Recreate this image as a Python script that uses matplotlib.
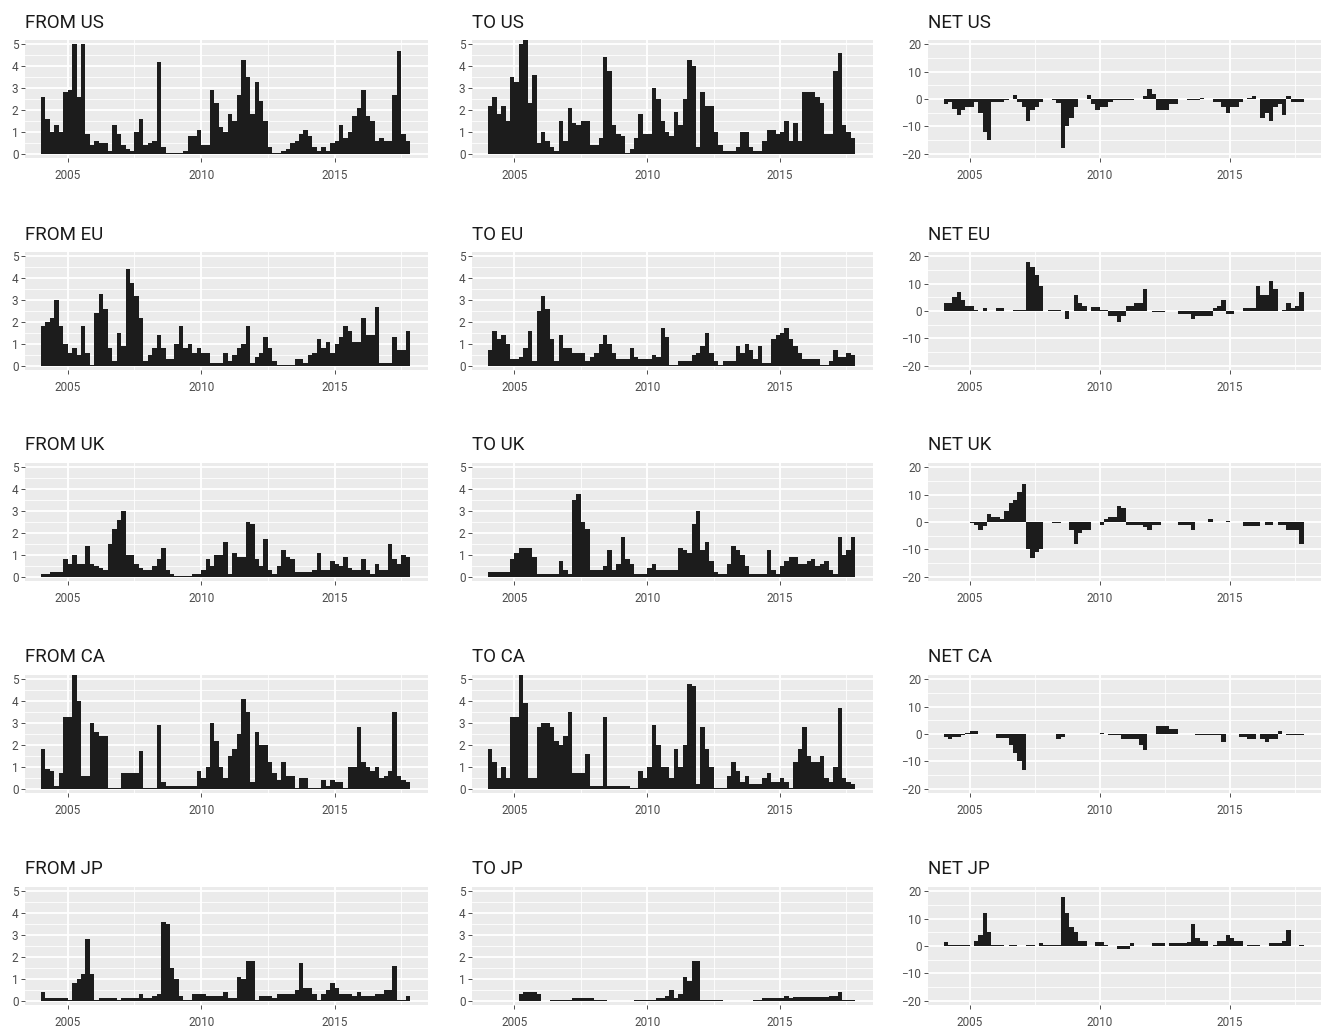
import numpy as np
import matplotlib
matplotlib.use("Agg")
import matplotlib.pyplot as plt
from matplotlib.ticker import MultipleLocator

plt.rcParams['font.family'] = ['Roboto', 'DejaVu Sans']

# two-month bins, Jan 2004 .. Oct 2017 (decimal years)
years = 2004 + np.arange(83) / 6

nan = np.nan

from_us = [2.6, 1.6, 1.0, 1.3, 1.0, 2.8,
           2.9, 5.0, 2.6, 5.0, 0.9, 0.4,
           0.6, 0.5, 0.5, 0.1, 1.3, 0.9,
           0.4, 0.2, 0.1, 1.0, 1.6, 0.4,
           0.5, 0.6, 4.2, 0.3, 0.05, 0.05,
           0.05, 0.05, 0.1, 0.8, 0.8, 1.1,
           0.4, 0.4, 2.9, 2.3, 1.2, 1.0,
           1.8, 1.5, 2.7, 4.3, 3.5, 1.8,
           3.3, 2.4, 1.5, 0.3, 0.05, 0.05,
           0.1, 0.2, 0.5, 0.6, 0.9, 1.1,
           0.8, 0.3, 0.1, 0.3, 0.1, 0.5,
           0.6, 1.3, 0.7, 1.0, 1.7, 2.1,
           2.9, 1.7, 1.5, 0.6, 0.7, 0.6,
           0.6, 2.7, 4.7, 0.9, 0.6]

to_us = [2.2, 2.6, 1.8, 2.2, 1.5, 3.5,
         3.3, 5.0, 5.2, 2.3, 3.6, 0.5,
         1.0, 0.6, 0.3, 0.1, 1.5, 0.6,
         2.1, 1.4, 1.3, 1.5, 1.5, 0.4,
         0.4, 0.7, 4.4, 3.8, 1.3, 0.9,
         0.8, 0.05, 0.2, 0.7, 1.8, 0.9,
         0.9, 3.0, 2.5, 1.5, 1.0, 0.8,
         1.9, 1.3, 2.5, 4.3, 4.0, 0.3,
         2.8, 2.2, 2.2, 1.0, 0.4, 0.1,
         0.1, 0.1, 0.3, 1.0, 1.0, 0.3,
         0.1, 0.1, 0.6, 1.1, 1.1, 0.9,
         1.0, 1.5, 0.6, 1.4, 0.6, 2.8,
         2.8, 2.8, 2.6, 2.3, 0.9, 0.9,
         3.8, 4.6, 1.3, 1.0, 0.7]

net_us = [-2, -1, -3.5, -6, -4, -3,
          -3, -1, -5, -12, -15, -1,
          -1, -1, -0.5, 0, 1.5, -1,
          -3, -8, -4, -3, -1, 0,
          0, -0.5, -1.5, -18, -10, -7,
          -3, 0, 0, 1.5, -2, -4,
          -3, -3, -1, -0.5, -0.5, -0.5,
          -0.5, -0.5, 0, 0, 1, 3.5,
          2, -4, -4, -4, -2, -2,
          0, 0, -0.5, -0.5, -0.5, 0.5,
          0, 0, -1, -1, -3, -5,
          -3, -3, -1, 0, 0.3, 1,
          0, -7, -5, -8, -3, -2,
          -6, 1, -1, -1, -1]

from_eu = [1.8, 2.0, 2.2, 3.0, 1.8, 1.0,
           0.6, 0.8, 0.5, 1.8, 0.6, 0.05,
           2.4, 3.3, 2.6, 0.8, 0.2, 1.5,
           0.9, 4.4, 3.8, 3.2, 2.2, 0.2,
           0.5, 0.8, 1.4, 0.8, 0.3, 0.3,
           1.0, 1.8, 0.8, 1.0, 0.6, 0.8,
           0.6, 0.6, 0.1, 0.1, 0.1, 0.6,
           0.2, 0.5, 0.8, 1.0, 1.8, 0.1,
           0.4, 0.6, 1.3, 0.8, 0.2, 0.05,
           0.05, 0.05, 0.05, 0.3, 0.3, 0.1,
           0.5, 0.6, 1.2, 0.8, 1.1, 0.6,
           1.0, 1.3, 1.8, 1.6, 1.1, 1.1,
           2.2, 1.4, 1.4, 2.7, 0.1, 0.1,
           0.1, 1.3, 0.7, 0.7, 1.6]

to_eu = [0.7, 1.6, 1.2, 1.4, 1.0, 0.3,
         0.3, 0.4, 0.8, 1.6, 0.2, 2.5,
         3.2, 2.6, 1.2, 0.2, 1.4, 0.8,
         0.8, 0.6, 0.6, 0.6, 0.2, 0.4,
         0.6, 1.0, 1.4, 1.0, 0.6, 0.3,
         0.3, 0.3, 0.8, 0.4, 0.3, 0.3,
         0.3, 0.5, 0.4, 1.7, 1.3, 0.05,
         0.05, 0.2, 0.2, 0.2, 0.5, 0.6,
         0.9, 1.5, 0.6, 0.2, 0.05, 0.2,
         0.2, 0.2, 0.9, 0.6, 1.0, 0.7,
         0.3, 0.9, 0.1, 0.1, 1.2, 1.4,
         1.5, 1.7, 1.2, 0.9, 0.6, 0.3,
         0.3, 0.3, 0.3, 0.05, 0.05, 0.2,
         0.7, 0.4, 0.4, 0.6, 0.5]

net_eu = [3, 3, 5, 7, 4, 2,
          2, 0.5, 0, 1, 0, 0,
          1, 1, 0, 0, 0.5, 0.5,
          0.5, 18, 16, 13, 9, 0,
          0.5, 0.5, 0.5, 0, -3, 0,
          6, 3, 2, 0, 1.5, 1.5,
          0.5, 0.5, -2, -2, -4, -2,
          2, 2, 3, 3, 8, 0,
          -0.5, -0.5, -0.5, 0, 0, 0,
          -1, -1, -1, -3, -2, -2,
          -2, -2, 1, 2, 4, -1,
          -1, 0, 0, 1, 1, 1,
          9, 6, 6, 11, 8, 0,
          0.5, 3, 1, 2, 7]

from_uk = [0.1, 0.1, 0.2, 0.2, 0.2, 0.8,
           0.6, 1.0, 0.6, 0.6, 1.4, 0.6,
           0.5, 0.4, 0.3, 1.5, 2.2, 2.6,
           3.0, 1.0, 1.0, 0.6, 0.4, 0.3,
           0.3, 0.5, 0.8, 1.3, 0.3, 0.1,
           0.05, 0.05, 0.05, 0.05, 0.1, 0.1,
           0.3, 0.8, 0.5, 1.0, 1.0, 1.6,
           0.1, 1.1, 0.9, 0.9, 2.5, 2.4,
           0.8, 0.5, 1.7, 0.3, 0.1, 0.5,
           1.2, 0.9, 0.8, 0.2, 0.2, 0.2,
           0.2, 0.3, 1.1, 0.3, 0.3, 0.7,
           0.6, 0.5, 0.9, 0.4, 0.3, 0.3,
           0.8, 0.3, 0.1, 0.6, 0.3, 0.3,
           1.5, 0.8, 0.6, 1.0, 0.9]

to_uk = [0.2, 0.2, 0.2, 0.2, 0.2, 0.8,
         1.1, 1.3, 1.3, 1.3, 0.9, 0.1,
         0.1, 0.1, 0.1, 0.1, 0.7, 0.3,
         0.1, 3.5, 3.8, 2.5, 2.2, 0.3,
         0.3, 0.3, 0.5, 1.2, 0.3, 0.6,
         1.8, 0.8, 0.6, 0.1, 0.1, 0.1,
         0.4, 0.6, 0.3, 0.3, 0.3, 0.3,
         0.3, 1.3, 1.2, 1.1, 2.4, 3.0,
         1.2, 1.6, 0.7, 0.2, 0.1, 0.1,
         0.6, 1.4, 1.2, 1.0, 0.5, 0.1,
         0.1, 0.1, 0.1, 1.2, 0.3, 0.1,
         0.5, 0.7, 0.9, 0.9, 0.6, 0.6,
         0.7, 0.8, 0.5, 0.6, 0.7, 0.3,
         0.1, 1.8, 1.0, 1.2, 1.8]

net_uk = [nan, nan, nan, nan, nan, nan,
          -0.5, -1, -3, -1.5, 3, 2,
          2, 1, 4, 7, 8, 11,
          14, -10, -13, -11, -10, 0,
          0, -0.5, -0.5, 0, 0, -3,
          -8, -4, -3, -3, 0, 0,
          -1, 1, 2, 2, 6, 5,
          -1, -1, -1, -1, -2, -3,
          -1, -1, 0, 0, 0, 0,
          -1, -1, -1, -3, 0, 0,
          0, 1, 0, 0, 0, 0.5,
          0, 0, 0, -1.5, -1.5, -1.5,
          -1.5, 0, -1, -1, 0, -1,
          -1, -3, -3, -3, -8]

from_ca = [1.8, 0.9, 0.8, 0.1, 0.7, 3.3,
           3.3, 5.2, 4.0, 0.6, 0.6, 3.0,
           2.6, 2.4, 2.4, 0.05, 0.05, 0.05,
           0.7, 0.7, 0.7, 0.7, 1.7, 0.05,
           0.05, 0.05, 2.9, 0.3, 0.1, 0.1,
           0.1, 0.1, 0.1, 0.1, 0.1, 0.8,
           0.5, 1.0, 3.0, 2.2, 1.0, 0.5,
           1.5, 1.8, 2.5, 4.1, 3.5, 0.3,
           2.6, 2.0, 2.0, 1.2, 0.7, 0.4,
           1.2, 0.6, 0.6, 0.05, 0.5, 0.5,
           0.05, 0.05, 0.05, 0.4, 0.1, 0.4,
           0.3, 0.3, 0.05, 1.0, 1.0, 2.8,
           1.2, 1.0, 0.8, 1.0, 0.5, 0.6,
           0.8, 3.5, 0.6, 0.4, 0.3]

to_ca = [1.8, 1.2, 0.5, 1.0, 0.5, 3.3,
         3.3, 5.2, 3.9, 0.5, 0.5, 2.8,
         3.0, 3.0, 2.8, 2.2, 2.0, 2.4,
         3.5, 0.7, 0.7, 0.7, 1.6, 0.1,
         0.1, 0.1, 3.3, 0.1, 0.1, 0.1,
         0.1, 0.1, 0.05, 0.05, 0.8, 0.5,
         1.0, 2.9, 2.0, 1.0, 1.0, 0.5,
         1.8, 1.0, 2.0, 4.8, 4.7, 0.2,
         2.8, 1.8, 1.0, 0.05, 0.05, 0.05,
         0.6, 1.2, 0.8, 0.3, 0.6, 0.2,
         0.2, 0.2, 0.5, 0.7, 0.3, 0.3,
         0.5, 0.3, 0.05, 1.2, 1.8, 2.8,
         1.5, 1.2, 1.2, 1.5, 0.5, 0.3,
         1.0, 3.7, 0.5, 0.3, 0.2]

net_ca = [-1, -2, -1, -1, -0.5, 0.5,
          1, 1, 0, 0, 0, 0,
          -1.5, -1.5, -1.5, -4, -7, -10,
          -13, 0, 0, 0, 0, 0,
          0, 0, -2, -1, 0, 0,
          0, 0, 0, 0, 0, 0,
          0.5, 0, -0.5, -0.5, -0.5, -2,
          -2, -2, -2, -4, -6, 0,
          0, 3, 3, 3, 2, 2,
          0, 0, 0, 0, -0.5, -0.5,
          -0.5, -0.5, -0.5, -0.5, -3, 0,
          0, 0, -1, -1, -2, -2,
          0, -2, -3, -2, -2, 1,
          0, -0.5, -0.5, -0.5, -0.3]

from_jp = [0.4, 0.1, 0.1, 0.1, 0.1, 0.1,
           0.05, 0.8, 1.0, 1.2, 2.8, 1.2,
           0.05, 0.1, 0.1, 0.1, 0.1, 0.05,
           0.1, 0.1, 0.1, 0.1, 0.3, 0.1,
           0.1, 0.2, 0.3, 3.6, 3.5, 1.5,
           1.0, 0.2, 0.05, 0.05, 0.3, 0.3,
           0.3, 0.2, 0.2, 0.2, 0.2, 0.4,
           0.1, 0.1, 1.1, 1.0, 1.8, 1.8,
           0.05, 0.2, 0.2, 0.2, 0.1, 0.3,
           0.3, 0.3, 0.3, 0.5, 1.7, 0.6,
           0.6, 0.3, 0.05, 0.3, 0.5, 0.8,
           0.6, 0.3, 0.3, 0.3, 0.2, 0.4,
           0.2, 0.2, 0.2, 0.3, 0.3, 0.5,
           0.5, 1.6, 0.05, 0.05, 0.2]

to_jp = [0, 0, 0, 0, 0, 0,
         0, 0.3, 0.4, 0.4, 0.4, 0.3,
         0, 0, 0.05, 0.05, 0.05, 0.05,
         0.05, 0.1, 0.1, 0.1, 0.1, 0.1,
         0.05, 0.05, 0.05, 0, 0, 0,
         0, 0, 0, 0.05, 0.05, 0.05,
         0.05, 0.05, 0.1, 0.1, 0.2, 0.5,
         0.1, 0.3, 1.1, 0.9, 1.8, 1.8,
         0.05, 0.05, 0.05, 0.05, 0.05, 0,
         0, 0, 0, 0, 0, 0,
         0.05, 0.05, 0.1, 0.1, 0.1, 0.1,
         0.1, 0.2, 0.1, 0.15, 0.15, 0.15,
         0.15, 0.15, 0.15, 0.15, 0.15, 0.2,
         0.2, 0.4, 0.05, 0.05, 0.05]

net_jp = [1.5, 0.5, 0.5, 0.5, 0.5, 0.5,
          0, 2, 4, 12, 5, 0.5,
          0.3, 0.3, 0, 0.3, 0.3, 0,
          0, 0.3, 0.3, 0, 1, 0.5,
          0.3, 0.3, 0.5, 18, 12, 7,
          5, 2, 2, 0, 0, 1.5,
          1.5, 0.5, 0, 0, -1, -1,
          -1, 1, 0, 0, 0, 0,
          1, 1, 1, 0, 1, 1,
          1, 1, 1.5, 8, 3, 2,
          2, 0, 0.3, 2, 2, 4,
          3, 2, 2, 0, 0.5, 0.5,
          0.5, 0, 0, 1, 1, 1,
          2, 6, 0, 0, 0.5]

titles = [["FROM US", "TO US", "NET US"],
          ["FROM EU", "TO EU", "NET EU"],
          ["FROM UK", "TO UK", "NET UK"],
          ["FROM CA", "TO CA", "NET CA"],
          ["FROM JP", "TO JP", "NET JP"]]
series = [[from_us, to_us, net_us],
          [from_eu, to_eu, net_eu],
          [from_uk, to_uk, net_uk],
          [from_ca, to_ca, net_ca],
          [from_jp, to_jp, net_jp]]

W, H = 1332, 1033
fig = plt.figure(figsize=(W / 100, H / 100), dpi=100)

col_left = [25, 472, 928]
col_width = [403, 401, 393]
row_top = [40, 252, 463, 675, 887]
panel_h = 118

step = 1 / 6
edges = np.append(years, years[-1] + step)

for r in range(5):
    for c in range(3):
        ax = fig.add_axes([col_left[c] / W, 1 - (row_top[r] + panel_h) / H,
                           col_width[c] / W, panel_h / H])
        vals = np.array(series[r][c], dtype=float)
        ax.fill_between(edges, np.append(vals, vals[-1]), 0, step='post',
                        color='#1c1c1c', linewidth=0)

        ax.set_facecolor('#EBEBEB')
        for s in ax.spines.values():
            s.set_visible(False)
        ax.set_xlim(2003.4, 2018.5)
        ax.xaxis.set_major_locator(MultipleLocator(5))
        ax.xaxis.set_minor_locator(MultipleLocator(2.5))
        if c < 2:
            ax.set_ylim(-0.2, 5.2)
            ax.yaxis.set_major_locator(MultipleLocator(1))
            ax.yaxis.set_minor_locator(MultipleLocator(0.5))
        else:
            ax.set_ylim(-21.5, 21.5)
            ax.yaxis.set_major_locator(MultipleLocator(10))
            ax.yaxis.set_minor_locator(MultipleLocator(5))
        ax.set_axisbelow(True)
        ax.grid(which='major', color='white', linewidth=1.3)
        ax.grid(which='minor', color='white', linewidth=0.6)
        ax.tick_params(which='major', length=2.75, width=0.6, color='#333333',
                       labelsize=8.5, labelcolor='#4D4D4D')
        ax.tick_params(axis='x', pad=5)
        ax.tick_params(axis='y', pad=2)
        ax.tick_params(which='minor', length=0)
        ax.set_xticks([2005, 2010, 2015])
        ax.set_xticklabels(['2005', '2010', '2015'])
        ax.set_title(titles[r][c], loc='left', fontsize=13.5, pad=9,
                     color='#1a1a1a')

fig.savefig('out.png', dpi=100)
